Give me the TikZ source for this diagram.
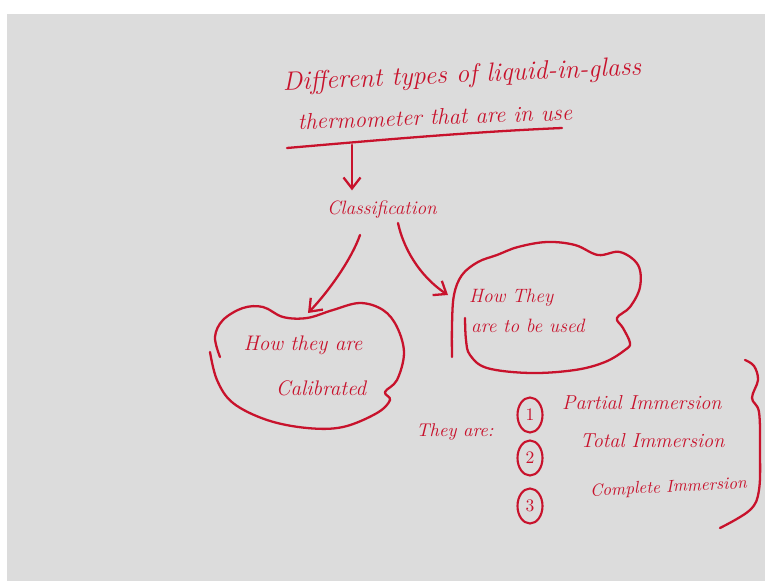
\documentclass[tikz,border=0pt]{standalone}
\usepackage{tikz}
\usetikzlibrary{arrows.meta,calc,shapes.geometric}
\definecolor{inkred}{RGB}{200,18,44}
\definecolor{boardgray}{RGB}{220,220,220}

\begin{document}
\begin{tikzpicture}[
    x=0.02cm, y=-0.02cm,
    ink/.style={text=inkred, inner sep=1pt, font=\itshape\fontsize{12}{14}\selectfont},
    stroke/.style={draw=inkred, line width=1.3pt, line cap=round, line join=round},
    arrow/.style={stroke, -{Straight Barb[length=2.2mm, width=3.4mm]}},
    numcirc/.style={ellipse, draw=inkred, line width=1.2pt, text=inkred, minimum width=0.5cm, minimum height=0.7cm, inner sep=0pt, font=\fontsize{10}{12}\selectfont}
]
    \useasboundingbox (0,0) rectangle (765,581);

    % Board
    \fill[white] (0,0) rectangle (765,581);
    \fill[boardgray] (7,14) rectangle (765,581);

    % Title
    \node[ink, font=\itshape\fontsize{15}{17}\selectfont, rotate=2.5] (title1) at (462,76) {Different types of liquid-in-glass};
    \node[ink, font=\itshape\fontsize{13}{15}\selectfont, rotate=2] (title2) at (435,117) {thermometer that are in use};
    \coordinate (ulleft) at (287,148);
    \coordinate (ulright) at (562,128);
    \coordinate (ulmid) at (352,145);
    \draw[stroke] (ulleft) .. controls (380,140) and (470,132) .. (ulright);

    % Classification
    \node[ink, font=\itshape\fontsize{11}{13}\selectfont] (class) at (382,210) {Classification};
    \draw[arrow, shorten >=5pt] (ulmid) -- (ulmid |- class.north);

    % Cloud: how they are calibrated
    \node[ink] (calib1) at (303,345) {How they are};
    \node[ink] (calib2) at (321,388) {Calibrated};
    \coordinate (calibtip) at (308,313);
    \draw[stroke] plot[smooth, tension=0.6] coordinates {(220,357) (215,337) (223,320) (243,308) (263,307) (283,317) (307,318) (333,310) (360,303) (383,310) (397,327) (404,353) (397,380) (385,392) (390,400) (377,413) (343,427) (307,428) (267,420) (233,403) (217,380) (210,352)};

    % Cloud: how they are to be used
    \node[ink, font=\itshape\fontsize{11}{13}\selectfont, anchor=west] (used1) at (467,298) {How They};
    \node[ink, font=\itshape\fontsize{11}{13}\selectfont, anchor=west] (used2) at (469,326) {are to be used};
    \coordinate (usedtip) at (448,295);
    \draw[stroke] plot[smooth, tension=0.6] coordinates {(465,318) (466,340) (470,355) (487,368) (530,373) (575,370) (605,362) (625,350) (630,343) (623,328) (617,318) (630,307) (640,287) (638,265) (620,252) (598,255) (575,245) (547,242) (518,247) (497,255) (478,262) (462,275) (454,295) (452,325) (452,357)};

    % Arrows from classification
    \draw[arrow] ($(class.center)+(-22,25)$) .. controls (352,258) and (330,290) .. (calibtip);
    \draw[arrow] ($(class.center)+(16,13)$) .. controls (405,255) and (425,280) .. (usedtip);

    % Kinds
    \node[ink, font=\itshape\fontsize{10.5}{12}\selectfont] (theyare) at (455,432) {They are:};
    \node[numcirc] (n1) at (530,415) {1};
    \node[numcirc] (n2) at (530,458) {2};
    \node[numcirc] (n3) at (530,506) {3};
    \node[ink, font=\itshape\fontsize{11.5}{13}\selectfont, anchor=west] (partial) at (560,403) {Partial Immersion};
    \node[ink, font=\itshape\fontsize{11.5}{13}\selectfont, anchor=west] (total) at (578,441) {Total Immersion};
    \node[ink, font=\itshape\fontsize{9.8}{12}\selectfont, anchor=west, rotate=3] (complete) at (588,492) {Complete Immersion};
    \draw[stroke] plot[smooth, tension=0.6] coordinates {(745,360) (754,366) (758,380) (752,398) (759,412) (760,450) (759,490) (750,510) (720,528)};
\end{tikzpicture}
\end{document}
